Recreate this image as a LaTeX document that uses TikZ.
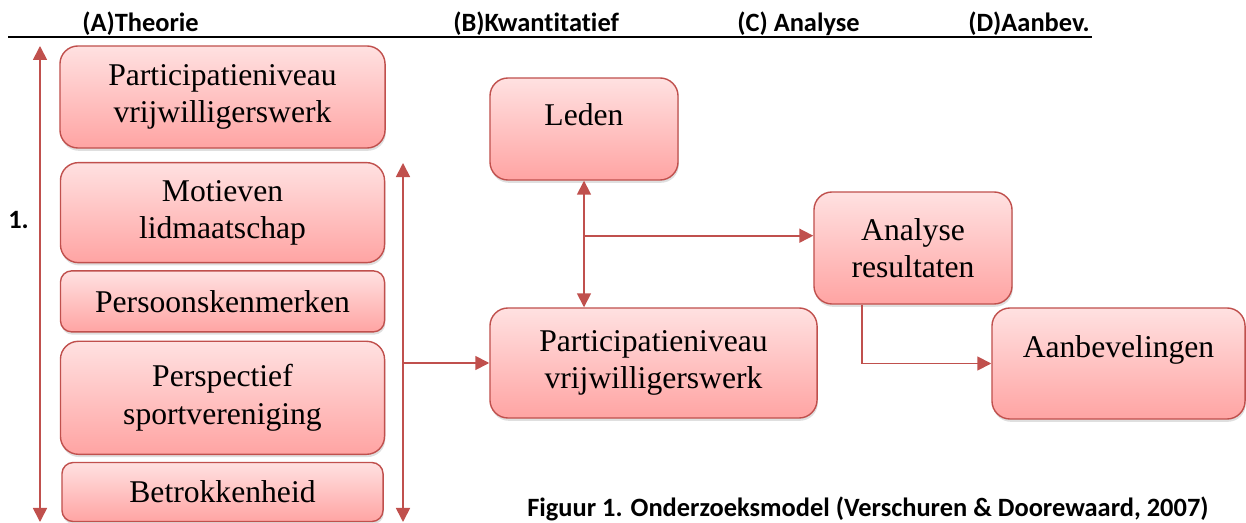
\documentclass[tikz,border=0pt]{standalone}
\usepackage{fontspec}
\setmainfont{Liberation Serif}
\newfontfamily\headfont[Ligatures=NoCommon]{Carlito}
\usetikzlibrary{arrows.meta,positioning,shadows}
\definecolor{boxline}{HTML}{C0504D}
\definecolor{boxtop}{HTML}{FFE1E1}
\definecolor{boxbottom}{HTML}{FFA4A3}
\newcommand{\lifted}[1]{\raisebox{0.35cm}[\height][\depth]{#1}}
\tikzset{
  modelblock/.style={
    draw=boxline,
    line width=1pt,
    rounded corners=0.45cm,
    align=center,
    top color=boxtop,
    bottom color=boxbottom,
    drop shadow={shadow xshift=0.02cm, shadow yshift=-0.07cm, opacity=0.25},
    font=\fontsize{22.5}{26.5}\selectfont
  },
  flatblock/.style={modelblock, rounded corners=0.28cm},
  headlabel/.style={
    anchor=base west,
    inner sep=0pt,
    font=\headfont\bfseries\fontsize{18.8}{22}\selectfont
  },
  modelarrow/.style={-{Triangle[length=0.35cm,width=0.35cm]}, draw=boxline, line width=1.2pt},
  modelarrows/.style={{Triangle[length=0.35cm,width=0.35cm]}-{Triangle[length=0.35cm,width=0.35cm]}, draw=boxline, line width=1.2pt}
}

\begin{document}
\begin{tikzpicture}[x=0.025cm, y=-0.025cm]
\useasboundingbox (0,0) rectangle (1246,523);

% column headings
\draw[line width=1.4pt] (8,37) -- (1092,37);
\node[headlabel] (headA) at (82,32) {(A)Theorie};
\node[headlabel] (headB) at (453,32) {(B)Kwantitatief};
\node[headlabel] (headC) at (737,32) {(C) Analyse};
\node[headlabel] (headD) at (968,32) {(D)Aanbev.};
\node[headlabel] (phase) at (8,229) {1.};

% theory column
\node[modelblock, minimum width=8.125cm, minimum height=2.55cm] (partA) at (222.5,97) {Participatieniveau\\ vrijwilligerswerk};
\node[modelblock, minimum width=8.1cm, minimum height=2.5cm, below=0.33cm of partA] (motieven) {Motieven\\ lidmaatschap};
\node[flatblock, minimum width=8.1cm, minimum height=1.525cm, below=0.17cm of motieven] (persoon) {Persoonskenmerken};
\node[modelblock, minimum width=8.1cm, minimum height=2.825cm, below=0.2cm of persoon] (perspectief) {Perspectief\\ sportvereniging};
\node[flatblock, minimum width=8.025cm, minimum height=1.475cm, below=0.17cm of perspectief] (betrokken) {Betrokkenheid};

% research and analysis
\node[modelblock, minimum width=4.7cm, minimum height=2.55cm] (leden) at (584,129) {\lifted{Leden}};
\node[modelblock, minimum width=8.175cm, minimum height=2.75cm] (partB) at (653.5,363) {Participatieniveau\\ vrijwilligerswerk};
\node[modelblock, minimum width=4.95cm, minimum height=2.8cm] (analyse) at (913,248) {Analyse\\ resultaten};
\node[modelblock, minimum width=6.325cm, minimum height=2.775cm] (aanbev) at (1118.5,363.5) {\lifted{Aanbevelingen}};

\node[headlabel] (caption) at (527,516) {Figuur 1. Onderzoeksmodel (Verschuren \& Doorewaard, 2007)};

\coordinate (ltop) at (40,46);
\coordinate (lbot) at (40,522);
\coordinate (rtop) at (403,163);
\coordinate (rbot) at (403,522);
\path (leden.south) ++(0,55) coordinate (split);

\draw[modelarrows] (ltop) -- (lbot);
\draw[modelarrows] (rtop) -- (rbot);
\draw[modelarrow] (rtop |- partB.west) -- (partB.west);
\draw[modelarrows] (leden.south) -- (leden.south |- partB.north);
\draw[modelarrow] (split) -- (split -| analyse.west);
\draw[modelarrow] ([xshift=-1.275cm]analyse.south) |- (aanbev.west);
\end{tikzpicture}
\end{document}
